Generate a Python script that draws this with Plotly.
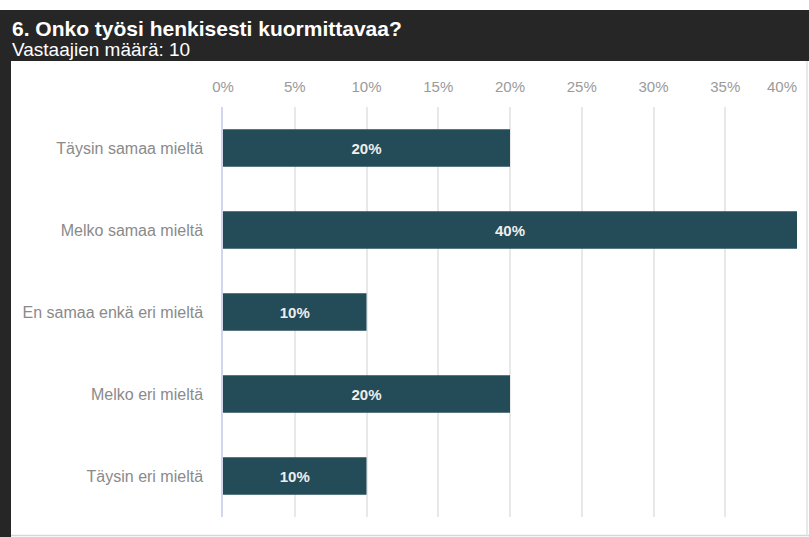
import plotly.graph_objects as go

# Survey question 6: share of respondents per answer option
categories = [
    "Täysin samaa mieltä",
    "Melko samaa mieltä",
    "En samaa enkä eri mieltä",
    "Melko eri mieltä",
    "Täysin eri mieltä",
]
shares = [20, 40, 10, 20, 10]
tick_values = [0, 5, 10, 15, 20, 25, 30, 35, 40]
tick_labels = ["0%", "5%", "10%", "15%", "20%", "25%", "30%", "35%", "40%"]

title_text = "6. Onko työsi henkisesti kuormittavaa?"
subtitle_text = "Vastaajien määrä: 10"

W, H = 809, 537
L, R, T, B = 223, 12, 107, 20
PW, PH = W - L - R, H - T - B

def px(x):
    return (x - L) / PW

def py(y):
    return (H - B - y) / PH

FONT = "Liberation Sans, Arial, sans-serif"
DARK = "#262626"
TICKFONT = dict(family=FONT, size=15, color="#9a9a9a")

fig = go.Figure()
fig.add_trace(
    go.Bar(
        x=shares,
        y=categories,
        orientation="h",
        width=0.46,
        marker=dict(color="#234b58", line=dict(width=0)),
        text=[f"{v}%" for v in shares],
        texttemplate="%{text}",
        textposition="inside",
        insidetextanchor="middle",
        textfont=dict(family=FONT, size=15, color="#eeeeee", weight=700),
        hoverinfo="skip",
    )
)
# empty companion trace so the overlay axis carrying the last tick is drawn
fig.add_trace(go.Scatter(x=[], y=[], xaxis="x2", yaxis="y", hoverinfo="skip"))

# all but the last label are centred on their gridlines; the last one sits
# to the left of its gridline on the overlay axis so it stays inside the panel
main_text = tick_labels[:-1] + [""]

fig.update_layout(
    width=W,
    height=H,
    autosize=False,
    margin=dict(l=L, r=R, t=T, b=B, pad=0, autoexpand=False),
    paper_bgcolor="white",
    plot_bgcolor="white",
    showlegend=False,
    font=dict(family=FONT),
    xaxis=dict(
        side="top",
        range=[0, 40],
        tickvals=tick_values,
        ticktext=main_text,
        automargin=False,
        showgrid=True,
        gridcolor="#e8e8e8",
        gridwidth=1.5,
        zeroline=False,
        showline=False,
        ticks="",
        ticklabelstandoff=11,
        tickfont=TICKFONT,
        fixedrange=True,
    ),
    xaxis2=dict(
        overlaying="x",
        side="top",
        range=[0, 40],
        tickvals=tick_values[-1:],
        ticktext=tick_labels[-1:],
        ticklabelposition="outside left",
        automargin=False,
        showgrid=False,
        zeroline=False,
        showline=False,
        ticks="",
        ticklabelstandoff=11,
        tickfont=TICKFONT,
        fixedrange=True,
    ),
    yaxis=dict(
        categoryorder="array",
        categoryarray=categories,
        autorange="reversed",
        automargin=False,
        showgrid=False,
        zeroline=False,
        showline=True,
        linecolor="#cfd6ee",
        linewidth=1.5,
        ticks="",
        ticklabelstandoff=15,
        tickfont=dict(family=FONT, size=16, color="#8a8a8a"),
        fixedrange=True,
    ),
    shapes=[
        # dark header band
        dict(type="rect", xref="paper", yref="paper", x0=px(0), x1=px(W),
             y0=py(61), y1=py(10), fillcolor=DARK, line=dict(width=0)),
        # dark left border
        dict(type="rect", xref="paper", yref="paper", x0=px(0), x1=px(11),
             y0=py(H), y1=py(10), fillcolor=DARK, line=dict(width=0)),
        # light bottom edge of the panel
        dict(type="line", xref="paper", yref="paper", x0=px(11), x1=px(W),
             y0=py(535.5), y1=py(535.5), line=dict(color="#d6d6d6", width=1.5)),
        # light right edge of the panel
        dict(type="line", xref="paper", yref="paper", x0=px(807), x1=px(807),
             y0=py(535.5), y1=py(61), line=dict(color="#e2e2e2", width=1.5)),
    ],
    annotations=[
        dict(text="<b>" + title_text + "</b>", xref="paper", yref="paper",
             x=px(10), y=py(28), xanchor="left", yanchor="middle",
             showarrow=False, font=dict(family=FONT, size=21, color="white")),
        dict(text=subtitle_text, xref="paper", yref="paper",
             x=px(10), y=py(49), xanchor="left", yanchor="middle",
             showarrow=False, font=dict(family=FONT, size=19, color="white")),
    ],
)

fig.write_html("out.html", config={"displayModeBar": False})
